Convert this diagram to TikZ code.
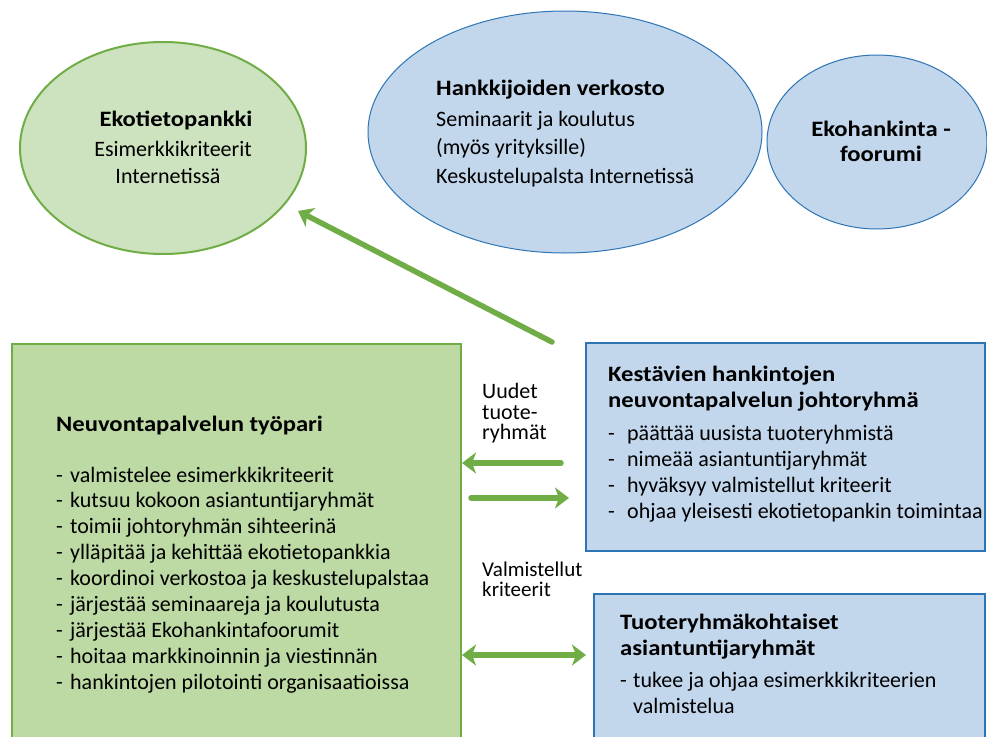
\documentclass[tikz,border=0pt]{standalone}
\usepackage{fontspec}
\setmainfont{Carlito}[BoldFeatures={FakeStretch=1.12}]
\usetikzlibrary{shapes.geometric,arrows.meta}
\definecolor{gline}{HTML}{70AD47}
\definecolor{gfillA}{HTML}{CDE2BF}
\definecolor{gfillB}{HTML}{BDD9A4}
\definecolor{bfill}{HTML}{C2D6EC}
\definecolor{bline}{HTML}{2E75B6}
\tikzset{
  txt/.style={inner sep=0pt, font=\fontsize{22}{26}\selectfont, anchor=base west},
  ltxt/.style={inner sep=0pt, font=\fontsize{21}{24}\selectfont, anchor=base west},
  btxt/.style={inner sep=0pt, font=\fontsize{22}{26}\selectfont\bfseries, anchor=base west},
  ctxt/.style={inner sep=0pt, font=\fontsize{22}{26}\selectfont, anchor=base},
  bctxt/.style={inner sep=0pt, font=\fontsize{22}{26}\selectfont\bfseries, anchor=base},
  gell/.style={ellipse, draw=gline, line width=2pt, fill=gfillA, inner sep=0pt},
  bell/.style={ellipse, draw=bline, line width=1pt, fill=bfill, inner sep=0pt},
  gbox/.style={rectangle, draw=gline, line width=2pt, fill=gfillB, anchor=north west, inner sep=0pt},
  bbox/.style={rectangle, draw=bline, line width=2pt, fill=bfill, anchor=north west, inner sep=0pt},
  garrow/.style={draw=gline, line width=5.5pt, line cap=round, -{Stealth[length=14pt, width=21pt, inset=4pt]}},
  garrowd/.style={draw=gline, line width=5.5pt, {Stealth[length=14pt, width=21pt, inset=4pt]}-{Stealth[length=14pt, width=21pt, inset=4pt]}},
}
\newcommand{\dsh}[1]{\makebox[19pt][l]{-}#1}
\newcommand{\dshs}[1]{\makebox[14pt][l]{-}#1}
\begin{document}
\begin{tikzpicture}[x=1pt,y=-1pt]
\useasboundingbox (0,0) rectangle (987,736);
\clip (0,0) rectangle (987,736);
\fill[white] (0,0) rectangle (987,736);
% ellipses
\node[gell, minimum width=286pt, minimum height=212pt] (eko) at (163,148) {};
\node[bell, minimum width=394pt, minimum height=242pt] (verk) at (565,132) {};
\node[bell, minimum width=220pt, minimum height=174pt] (foor) at (877,142) {};
% ellipse texts
\node[bctxt] (ekoT) at (176,126) {Ekotietopankki};
\node[ctxt] (ekoA) at (173,156) {Esimerkkikriteerit};
\node[ctxt] (ekoB) at (168,183) {Internetissä};
\node[btxt] (verkT) at (436,95) {Hankkijoiden verkosto};
\node[txt] (verkA) at (436,126) {Seminaarit ja koulutus};
\node[txt] (verkB) at (436,154) {(myös yrityksille)};
\node[txt] (verkC) at (436,183) {Keskustelupalsta Internetissä};
\node[bctxt] (foorT) at (881,136) {Ekohankinta -};
\node[bctxt] (foorA) at (881,161) {foorumi};
% boxes
\node[gbox, minimum width=449pt, minimum height=420pt] (tp) at (11,343) {};
\node[bbox, minimum width=399pt, minimum height=208pt] (jr) at (585,342) {};
\node[bbox, minimum width=391pt, minimum height=180pt] (ar) at (593,593) {};
% green box text
\node[btxt] (tpT) at (56,431) {Neuvontapalvelun työpari};
\foreach \t [count=\i] in {valmistelee esimerkkikriteerit,
  kutsuu kokoon asiantuntijaryhmät,
  toimii johtoryhmän sihteerinä,
  ylläpitää ja kehittää ekotietopankkia,
  koordinoi verkostoa ja keskustelupalstaa,
  järjestää seminaareja ja koulutusta,
  järjestää Ekohankintafoorumit,
  hoitaa markkinoinnin ja viestinnän,
  hankintojen pilotointi organisaatioissa}
  \node[txt] (tpI\i) at (56,{482+25.9*(\i-1)}) {\dshs{\t}};
% johtoryhmä
\node[btxt] (jrT1) at (608,381) {Kestävien hankintojen};
\node[btxt] (jrT2) at (608,407) {neuvontapalvelun johtoryhmä};
\foreach \t [count=\i] in {päättää uusista tuoteryhmistä,
  nimeää asiantuntijaryhmät,
  hyväksyy valmistellut kriteerit,
  ohjaa yleisesti ekotietopankin toimintaa}
  \node[txt] (jrI\i) at (608,{440+26.3*(\i-1)}) {\dsh{\t}};
% asiantuntijaryhmät
\node[btxt] (arT1) at (620,629) {Tuoteryhmäkohtaiset};
\node[btxt] (arT2) at (620,655) {asiantuntijaryhmät};
\node[txt] (arI1) at (620,687) {\makebox[13pt][l]{-}tukee ja ohjaa esimerkkikriteerien};
\node[txt] (arI2) at (633,713) {valmistelua};
% middle labels
\node[txt] (lbA) at (482,398) {Uudet};
\node[txt] (lbB) at (482,419) {tuote-};
\node[txt] (lbC) at (482,439) {ryhmät};
\node[ltxt] (lbD) at (482,576) {Valmistellut};
\node[ltxt] (lbE) at (482,596) {kriteerit};
% arrows
\coordinate (a1s) at (552,342);
\coordinate (a1e) at (298,211);
\draw[garrow] (a1s) -- (a1e);
\coordinate (a2s) at (561,463);
\coordinate (a2e) at (462,463);
\draw[garrow] (a2s) -- (a2e);
\coordinate (a3s) at (471,498);
\coordinate (a3e) at (569,498);
\draw[garrow] (a3s) -- (a3e);
\coordinate (a4s) at (462,655);
\coordinate (a4e) at (586,655);
\draw[garrowd] (a4s) -- (a4e);
\end{tikzpicture}
\end{document}
